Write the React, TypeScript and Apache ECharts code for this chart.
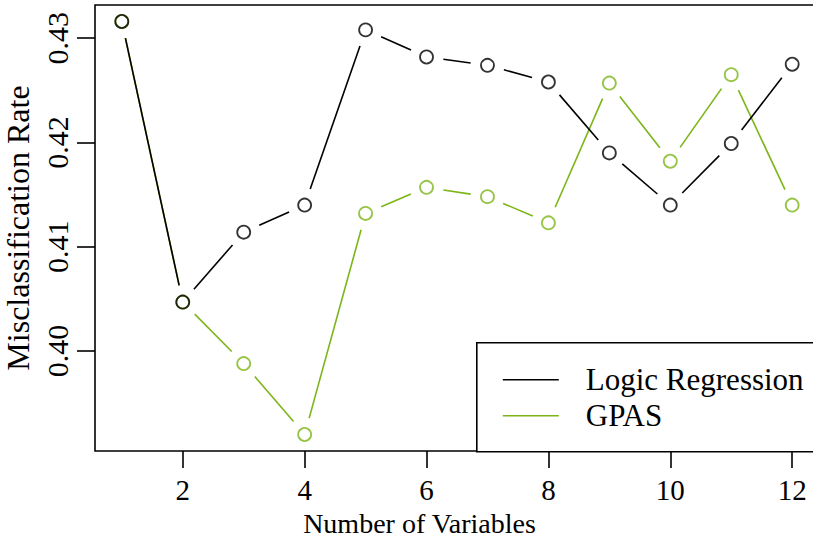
import React, { useEffect, useRef } from "react";
import * as echarts from "echarts";

// Number of variables in the model
const numVars = [1, 2, 3, 4, 5, 6, 7, 8, 9, 10, 11, 12];

// Misclassification rates per model size
const logicRegression = [0.4316, 0.4047, 0.4114, 0.414, 0.4308, 0.4282, 0.4274, 0.4258, 0.419, 0.414, 0.4199, 0.4275];
const gpas = [0.4316, 0.4047, 0.3988, 0.392, 0.4132, 0.4157, 0.4148, 0.4123, 0.4257, 0.4182, 0.4265, 0.414];

const xTicks = [2, 4, 6, 8, 10, 12];
const yTicks = [0.4, 0.41, 0.42, 0.43];

const BLACK = "#000000";
const GREEN = "#7cb518";
const FONT = "'Liberation Serif', 'DejaVu Serif', serif";
const FS = 28;

// Axis range padded by 4% on each side of the data extent
function padRange(vals: number[]) {
  const lo = Math.min(...vals);
  const hi = Math.max(...vals);
  const d = (hi - lo) * 0.04;
  return [lo - d, hi + d];
}

// Segments between consecutive points, drawn with a gap around each point
function segments(xs: number[], ys: number[]) {
  const out: number[][] = [];
  for (let i = 0; i < xs.length - 1; i++) out.push([xs[i], ys[i], xs[i + 1], ys[i + 1]]);
  return out;
}

function gapSeries(name: string, xs: number[], ys: number[], color: string) {
  return {
    type: "custom",
    name,
    data: segments(xs, ys),
    encode: { x: [0, 2], y: [1, 3] },
    silent: true,
    renderItem: (params: any, api: any) => {
      const p1 = api.coord([api.value(0), api.value(1)]);
      const p2 = api.coord([api.value(2), api.value(3)]);
      const dx = p2[0] - p1[0];
      const dy = p2[1] - p1[1];
      const len = Math.sqrt(dx * dx + dy * dy);
      const gap = 17;
      if (len <= 2 * gap) return null;
      const ux = dx / len;
      const uy = dy / len;
      return {
        type: "line",
        shape: {
          x1: p1[0] + ux * gap,
          y1: p1[1] + uy * gap,
          x2: p2[0] - ux * gap,
          y2: p2[1] - uy * gap,
        },
        style: { stroke: color, lineWidth: 1.6 },
      };
    },
  };
}

function pointSeries(name: string, xs: number[], ys: number[], color: string) {
  return {
    type: "scatter",
    name,
    data: xs.map((x, i) => [x, ys[i]]),
    symbol: "circle",
    symbolSize: 13,
    itemStyle: { color: "rgba(0,0,0,0)", borderColor: color, borderWidth: 1.8 },
    silent: true,
  };
}

export default function App() {
  const ref = useRef<HTMLDivElement>(null);

  useEffect(() => {
    if (!ref.current) return;
    const chart = echarts.init(ref.current, null, { renderer: "svg" });
    const [xMin, xMax] = padRange(numVars);
    const [yMin, yMax] = padRange([...logicRegression, ...gpas]);

    chart.setOption({
      animation: false,
      backgroundColor: "#ffffff",
      textStyle: { fontFamily: FONT },
      grid: {
        left: 95,
        top: 5,
        width: 724,
        height: 446,
        containLabel: false,
        outerBoundsMode: "none",
        show: true,
        borderColor: BLACK,
        borderWidth: 1.6,
        backgroundColor: "transparent",
      },
      xAxis: {
        type: "value",
        min: xMin,
        max: xMax,
        name: "Number of Variables",
        nameLocation: "middle",
        nameGap: 58,
        nameTextStyle: { fontFamily: FONT, fontSize: FS, color: BLACK, padding: [0, 75, 0, 0] },
        axisLine: { show: false },
        splitLine: { show: false },
        axisTick: {
          show: true,
          inside: false,
          length: 17,
          customValues: xTicks,
          lineStyle: { color: BLACK, width: 1.6 },
        },
        axisLabel: {
          customValues: xTicks,
          margin: 24,
          fontFamily: FONT,
          fontSize: 29,
          color: BLACK,
        },
      },
      yAxis: {
        type: "value",
        min: yMin,
        max: yMax,
        name: "Misclassification Rate",
        nameLocation: "middle",
        nameGap: 60,
        nameTextStyle: { fontFamily: FONT, fontSize: 32, color: BLACK },
        axisLine: { show: false },
        splitLine: { show: false },
        axisTick: {
          show: true,
          inside: false,
          length: 18,
          customValues: yTicks,
          lineStyle: { color: BLACK, width: 1.6 },
        },
        axisLabel: {
          customValues: yTicks,
          rotate: 90,
          margin: 23,
          fontFamily: FONT,
          fontSize: 30,
          color: BLACK,
          formatter: (v: number) => v.toFixed(2),
        },
      },
      series: [
        gapSeries("GPAS", numVars, gpas, GREEN),
        pointSeries("GPAS", numVars, gpas, GREEN),
        gapSeries("Logic Regression", numVars, logicRegression, BLACK),
        pointSeries("Logic Regression", numVars, logicRegression, BLACK),
      ],
      graphic: [
        {
          type: "group",
          left: 476,
          top: 342,
          children: [
            {
              type: "rect",
              shape: { x: 0, y: 0, width: 360, height: 109 },
              style: { fill: "#ffffff", stroke: BLACK, lineWidth: 1.6 },
            },
            {
              type: "line",
              shape: { x1: 26, y1: 37, x2: 82, y2: 37 },
              style: { stroke: BLACK, lineWidth: 1.6 },
            },
            {
              type: "line",
              shape: { x1: 26, y1: 73, x2: 82, y2: 73 },
              style: { stroke: GREEN, lineWidth: 1.6 },
            },
            {
              type: "text",
              x: 109,
              y: 37,
              style: {
                text: "Logic Regression",
                fontFamily: FONT,
                fontSize: 31,
                fill: BLACK,
                verticalAlign: "middle",
              },
            },
            {
              type: "text",
              x: 109,
              y: 73,
              style: {
                text: "GPAS",
                fontFamily: FONT,
                fontSize: 31,
                fill: BLACK,
                verticalAlign: "middle",
              },
            },
          ],
        },
      ],
    });

    return () => chart.dispose();
  }, []);

  return (
    <div
      ref={ref}
      style={{ position: "absolute", left: 0, top: 0, width: 813, height: 543, overflow: "hidden" }}
    />
  );
}
